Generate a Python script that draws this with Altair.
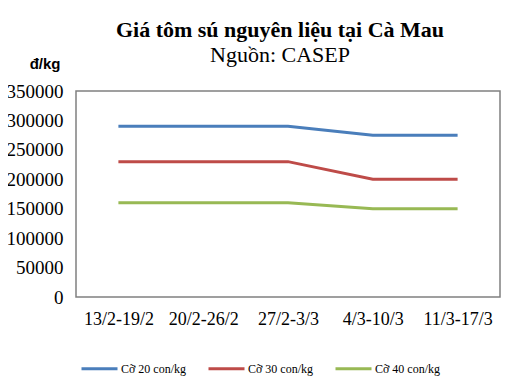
import altair as alt
import pandas as pd

weeks = ["13/2-19/2", "20/2-26/2", "27/2-3/3", "4/3-10/3", "11/3-17/3"]
series_names = ["Cỡ 20 con/kg", "Cỡ 30 con/kg", "Cỡ 40 con/kg"]
c20 = [290000, 290000, 290000, 275000, 275000]
c30 = [230000, 230000, 230000, 200000, 200000]
c40 = [160000, 160000, 160000, 150000, 150000]
colors = ["#4A7EBB", "#BE4B48", "#98B954"]

rows = []
for name, vals in zip(series_names, [c20, c30, c40]):
    for w, v in zip(weeks, vals):
        rows.append({"week": w, "series": name, "price": v})
df = pd.DataFrame(rows)

chart = alt.Chart(df).mark_line(strokeWidth=3).encode(
    x=alt.X("week:O", sort=weeks, scale=alt.Scale(type="point", padding=0.5),
            axis=alt.Axis(title=None, labelAngle=0, labelFont="Liberation Serif",
                          labelFontSize=18, labelColor="#000", labelPadding=13,
                          ticks=False, domain=False)),
    y=alt.Y("price:Q", scale=alt.Scale(domain=[0, 350000]),
            axis=alt.Axis(values=[0, 50000, 100000, 150000, 200000, 250000, 300000, 350000],
                          format="d", grid=False, ticks=False, domain=False,
                          labelFont="Liberation Serif", labelFontSize=19, labelColor="#000",
                          labelPadding=13,
                          title="đ/kg", titleAngle=0, titleFont="Liberation Sans",
                          titleFontSize=15, titleFontWeight="bold", titleColor="#000",
                          titleAlign="right", titleBaseline="bottom", titleX=-16, titleY=-20)),
    color=alt.Color("series:N", sort=series_names,
                    scale=alt.Scale(domain=series_names, range=colors),
                    legend=alt.Legend(title=None, orient="none", direction="horizontal",
                                      legendX=4, legendY=258, symbolType="stroke",
                                      symbolSize=1296, symbolStrokeWidth=3,
                                      labelFont="Liberation Serif", labelFontSize=12,
                                      labelColor="#000", columnPadding=15, labelOffset=2)),
).properties(
    width=424, height=206,
    title=alt.TitleParams(text="Giá tôm sú nguyên liệu tại Cà Mau",
                          subtitle="Nguồn: CASEP", font="Liberation Serif",
                          fontSize=22, fontWeight="bold", color="#000",
                          subtitleFont="Liberation Serif", subtitleFontSize=22,
                          subtitleColor="#000", anchor="middle", frame="group",
                          dx=-8, offset=-11, subtitlePadding=3),
    autosize=alt.AutoSizeParams(type="none"),
    padding={"left": 68, "top": 83, "right": 10, "bottom": 80},
).configure_view(stroke="#808080", strokeWidth=1.5)

chart.save("out.html", embed_options={"renderer": "svg", "actions": False})
